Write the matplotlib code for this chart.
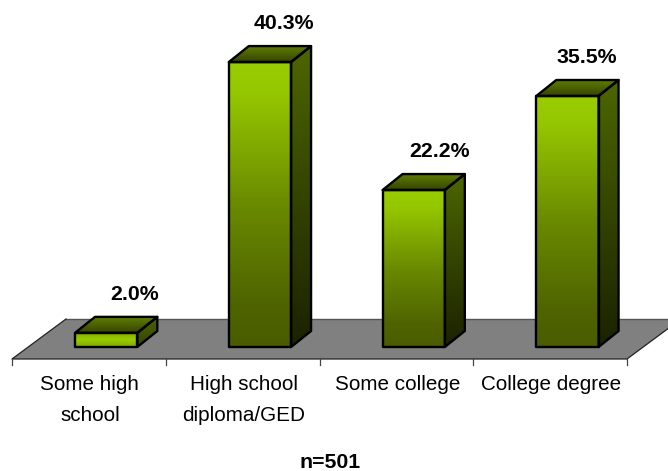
#! /usr/bin/python3
# 3D style column chart of education level
import numpy as np
import matplotlib.pyplot as plt
from matplotlib.colors import LinearSegmentedColormap
from matplotlib.patches import Polygon

plt.rcParams['font.family'] = ['Liberation Sans', 'DejaVu Sans']

# Data
categories = ['Some high\nschool', 'High school\ndiploma/GED', 'Some college', 'College degree']
values = [2.0, 40.3, 22.2, 35.5]
footnote = 'n=501'

# Pixel scale of the chart: one category is 153.75 px, one percent is 7.07 px
catPx = 153.75
pctPx = 7.07
barWidth = 0.405
barOffset = 0.41
depthX = 20 / catPx
depthY = 16 / pctPx

# Horizontal shift of each value label from the left edge of its bar, in px
labelShiftPx = [60, 55, 57, 50]

fig = plt.figure(figsize=(6.68, 4.71), dpi=100)
ax = fig.add_axes([0, 0, 1, 1])
xLimits = (-12 / catPx, (668 - 12) / catPx)
yLimits = ((347 - 471) / pctPx, 347 / pctPx)


# Fill a polygon with a vertical gradient
def gradientFace(points, colors, zorder):
    points = np.array(points)
    outline = Polygon(points, closed=True, facecolor='none', edgecolor='black', linewidth=1.7,
                      joinstyle='round', zorder=zorder + 0.1)
    ax.add_patch(outline)
    cmap = LinearSegmentedColormap.from_list('face', colors, N=512)
    image = ax.imshow(np.linspace(0, 1, 256).reshape(-1, 1), cmap=cmap, aspect='auto', zorder=zorder,
                      interpolation='bilinear',
                      extent=(points[:, 0].min(), points[:, 0].max(), points[:, 1].min(), points[:, 1].max()))
    image.set_clip_path(outline)


# Grey floor
floorFrontY = -12 / pctPx
floorBackY = 28 / pctPx
floorShift = 54 / catPx
floor = Polygon([(0, floorFrontY), (4, floorFrontY), (4 + floorShift, floorBackY), (floorShift, floorBackY)],
                closed=True, facecolor='#808080', edgecolor='none', zorder=1)
ax.add_patch(floor)
ax.plot([floorShift, 4 + floorShift], [floorBackY, floorBackY], color='#555555', linewidth=1.0, zorder=1.1)
ax.plot([floorShift, 0, 4, 4 + floorShift], [floorBackY, floorFrontY, floorFrontY, floorBackY],
        color='#222222', linewidth=0.9, zorder=1.1)

# Tick marks below the floor
for i in range(5):
    ax.plot([i, i], [floorFrontY, floorFrontY - 6 / pctPx], color='#444444', linewidth=0.9, zorder=1.1)

# Bars and labels
for i, value in enumerate(values):
    left = i + barOffset
    right = left + barWidth
    if value > 5:
        frontColors = [(0, '#99cc00'), (0.1, '#96c800'), (0.5, '#6a8a00'), (0.85, '#4f6400'), (1, '#4a5c00')]
        sideColors = ['#4d6600', '#1a2200']
    else:
        frontColors = ['#80aa00', '#99cc00', '#80aa00']
        sideColors = ['#4d6600', '#334400']
    gradientFace([(left, 0), (right, 0), (right, value), (left, value)], frontColors, 3)
    gradientFace([(right, 0), (right + depthX, depthY), (right + depthX, value + depthY), (right, value)],
                 sideColors, 3)
    gradientFace([(left, value), (right, value), (right + depthX, value + depthY), (left + depthX, value + depthY)],
                 ['#5f7d00', '#364400'], 3)
    ax.text(left + labelShiftPx[i] / catPx, value + 38.5 / pctPx, '%.1f%%' % value, ha='center', va='center',
            fontsize=15.3, fontweight='bold', color='black')
    ax.text(i + 0.5 + 1 / catPx, floorFrontY - 16 / pctPx, categories[i], ha='center', va='top', fontsize=14.9,
            color='black', linespacing=1.77)

ax.text(2.07, (347 - 462) / pctPx, footnote, ha='center', va='center', fontsize=15.3, fontweight='bold', color='black')

ax.set_xlim(xLimits)
ax.set_ylim(yLimits)
ax.axis('off')
fig.savefig('out.png', dpi=100)
